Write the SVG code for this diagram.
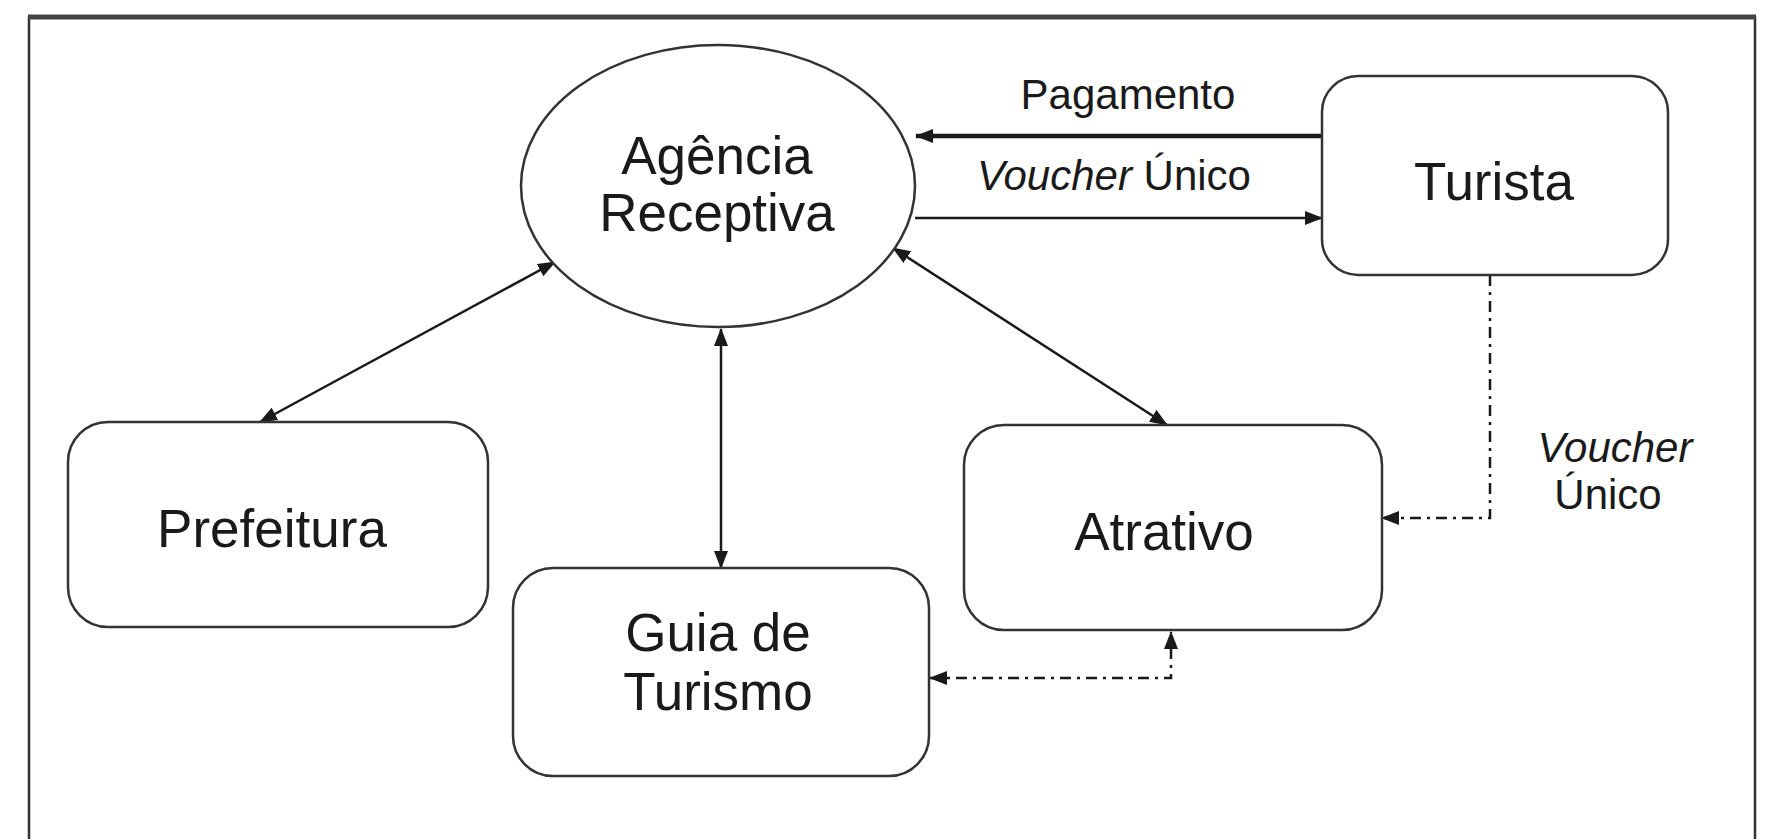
<svg xmlns="http://www.w3.org/2000/svg" width="1766" height="839" viewBox="0 0 1766 839">
<style>
.node{fill:#fff;stroke:#333;stroke-width:2.5}
.lbl{font-family:"Liberation Sans",Arial,sans-serif;font-size:53px;fill:#1a1a1a;text-anchor:middle}
.sm{font-family:"Liberation Sans",Arial,sans-serif;font-size:42px;fill:#1a1a1a;text-anchor:middle}
.c{fill:none;stroke:#1a1a1a;stroke-width:2.5}
.thick{stroke-width:4.5}
.dd{fill:none;stroke:#1a1a1a;stroke-width:2.5;stroke-dasharray:11 6 3 6}
</style>
<defs>
<marker id="arr" markerUnits="userSpaceOnUse" markerWidth="18" markerHeight="14" refX="17" refY="7" orient="auto-start-reverse" viewBox="0 0 18 14">
<path d="M0,0 L18,7 L0,14 z" fill="#1a1a1a"/>
</marker>
</defs>
<rect width="1766" height="839" fill="#fff"/>
<g id="frame">
<path d="M29,860 L29,17 L1755,17 L1755,860" fill="none" stroke="#333" stroke-width="2.5"/>
<line x1="28" y1="17" x2="1756" y2="17" stroke="#444" stroke-width="5"/>
</g>
<g id="connectors">
<line class="c thick" x1="1322" y1="136" x2="916" y2="136" marker-end="url(#arr)"/>
<line class="c" x1="915" y1="218" x2="1322" y2="218" marker-end="url(#arr)"/>
<line class="c" x1="555" y1="262" x2="260" y2="422" marker-start="url(#arr)" marker-end="url(#arr)"/>
<line class="c" x1="721" y1="329" x2="721" y2="568" marker-start="url(#arr)" marker-end="url(#arr)"/>
<line class="c" x1="893" y1="248" x2="1167" y2="425" marker-start="url(#arr)" marker-end="url(#arr)"/>
<path class="dd" d="M1490,275 L1490,518 L1382,518" marker-end="url(#arr)"/>
<path class="dd" d="M930,678 L1171,678 L1171,632" marker-start="url(#arr)" marker-end="url(#arr)"/>
<text class="sm" x="1128" y="109">Pagamento</text>
<text class="sm" x="1114" y="190"><tspan font-style="italic">Voucher</tspan> Único</text>
<text class="sm" x="1615" y="462" font-style="italic">Voucher</text>
<text class="sm" x="1608" y="509">Único</text>
</g>
<g id="agencia">
<ellipse class="node" cx="718" cy="186" rx="197" ry="141"/>
<text class="lbl" x="717" y="174">Agência</text>
<text class="lbl" x="717" y="231">Receptiva</text>
</g>
<g id="turista">
<rect class="node" x="1322" y="76" width="346" height="199" rx="36"/>
<text class="lbl" x="1494" y="200">Turista</text>
</g>
<g id="prefeitura">
<rect class="node" x="68" y="422" width="420" height="205" rx="40"/>
<text class="lbl" x="272" y="547">Prefeitura</text>
</g>
<g id="guia">
<rect class="node" x="513" y="568" width="416" height="208" rx="40"/>
<text class="lbl" x="718" y="651">Guia de</text>
<text class="lbl" x="718" y="710">Turismo</text>
</g>
<g id="atrativo">
<rect class="node" x="964" y="425" width="418" height="205" rx="40"/>
<text class="lbl" x="1164" y="550">Atrativo</text>
</g>
</svg>
